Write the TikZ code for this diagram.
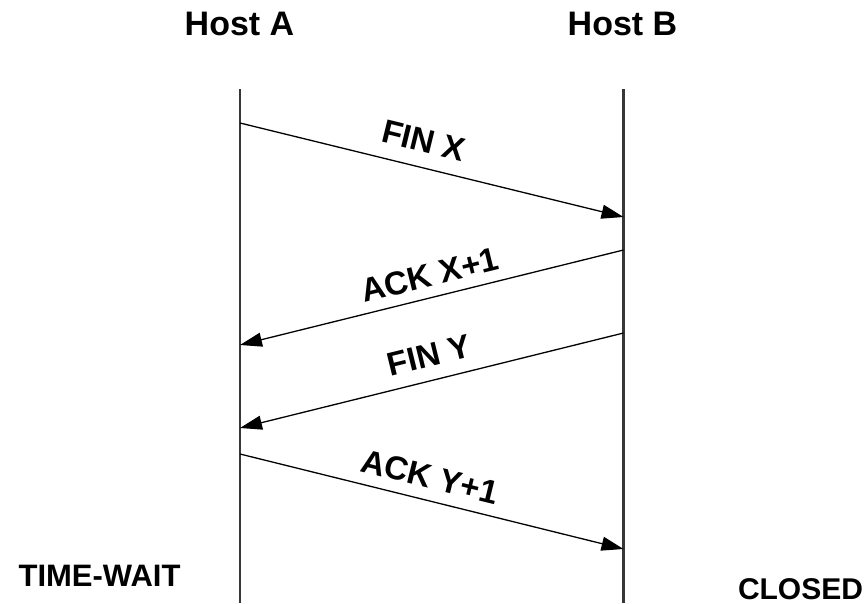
\documentclass[tikz,border=0pt]{standalone}
\usepackage{fontspec}
\setmainfont{Liberation Sans}
\usetikzlibrary{arrows.meta}
\begin{document}
\begin{tikzpicture}[x=1pt,y=-1pt,
  lifeline/.style={line width=2.4pt,draw={rgb,255:red,55;green,55;blue,55}},
  msg/.style={line width=1.3pt,-{Triangle[length=22pt,width=14pt]}},
  lbl/.style={font=\bfseries\fontsize{33}{33}\selectfont,inner sep=0pt},
  hdr/.style={font=\bfseries\fontsize{34}{34}\selectfont,inner sep=0pt}]
\useasboundingbox (0,0) rectangle (868,603);
\node[hdr] (ha) at (239.5,24) {Host A};
\node[hdr] (hb) at (622.5,24) {Host B};
\coordinate (atop) at (240,89);
\coordinate (abot) at (240,603);
\coordinate (btop) at (623.5,89);
\coordinate (bbot) at (623.5,603);
\draw[lifeline] (atop) -- (abot);
\draw[lifeline] (btop) -- (bbot);
\coordinate (a1) at (240,123);
\coordinate (b1) at (623.5,217);
\coordinate (b2) at (623.5,250);
\coordinate (a2) at (240,345);
\coordinate (b3) at (623.5,333);
\coordinate (a3) at (240,428);
\coordinate (a4) at (240,454);
\coordinate (b4) at (623.5,549);
\draw[msg] (a1) -- (b1);
\draw[msg] (b2) -- (a2);
\draw[msg] (b3) -- (a3);
\draw[msg] (a4) -- (b4);
\node[lbl,rotate=-13.8] (l1) at (424,141) {FIN X};
\node[lbl,rotate=13.8] (l2) at (430,275) {ACK X+1};
\node[lbl,rotate=13.8] (l3) at (429,355) {FIN Y};
\node[lbl,rotate=-13.8] (l4) at (430,477) {ACK Y+1};
\node[font=\bfseries\fontsize{31}{31}\selectfont,inner sep=0pt] (tw) at (99.5,575.5) {TIME-WAIT};
\node[font=\bfseries\fontsize{30}{30}\selectfont,inner sep=0pt] (cl) at (800.5,589) {CLOSED};
\end{tikzpicture}
\end{document}
